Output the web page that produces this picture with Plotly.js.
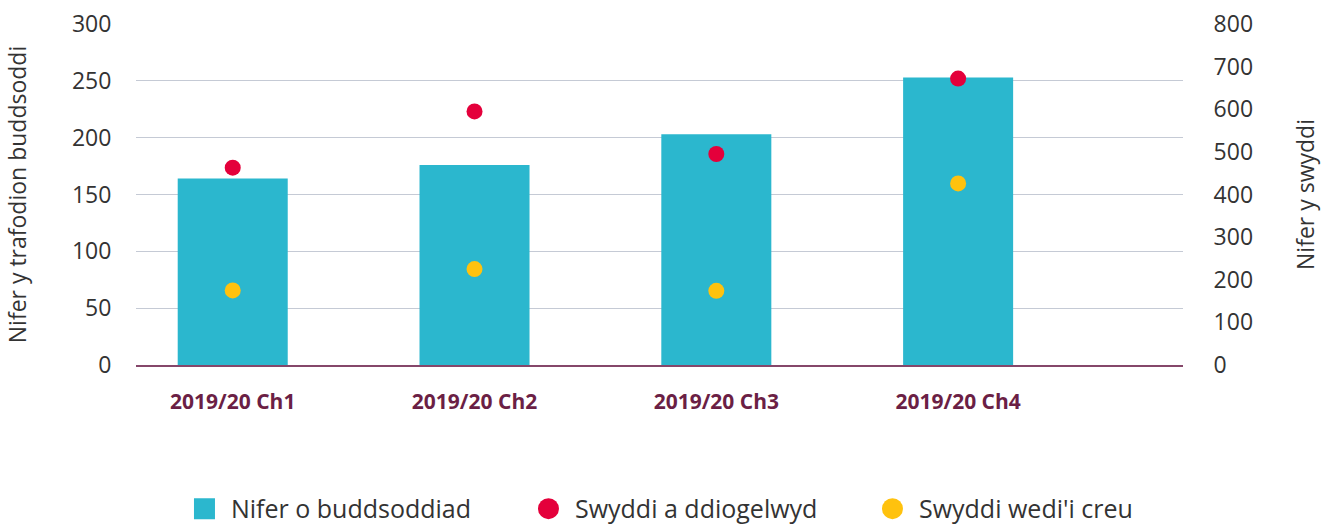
<!DOCTYPE html>
<html>
<head>
<meta charset="utf-8">
<script src="https://cdn.plot.ly/plotly-3.0.1.min.js"></script>
<style>html,body{margin:0;padding:0;background:#fff;}#chart{width:1328px;height:528px;}</style>
</head>
<body>
<div id="chart"></div>
<script>
const categories = ["2019/20 Ch1", "2019/20 Ch2", "2019/20 Ch3", "2019/20 Ch4"];
const investments = [164, 176, 203, 253];
const jobsSafeguarded = [463, 595, 495, 672];
const jobsCreated = [175, 225, 174, 426];

const seriesNames = ["Nifer o buddsoddiad", "Swyddi a ddiogelwyd", "Swyddi wedi'i creu"];
const leftTitle = "Nifer y trafodion buddsoddi";
const rightTitle = "Nifer y swyddi";

const FONT = "'Open Sans', sans-serif";
const PAD = "\u00a0";

const traces = [
  {
    type: 'bar', x: categories, y: investments, name: PAD + seriesNames[0],
    marker: {color: '#2BB7CE'}, width: 0.455, yaxis: 'y'
  },
  {
    type: 'scatter', mode: 'markers', x: categories, y: jobsSafeguarded, name: PAD + seriesNames[1],
    marker: {color: '#E4003B', size: 16}, yaxis: 'y2'
  },
  {
    type: 'scatter', mode: 'markers', x: categories, y: jobsCreated, name: PAD + seriesNames[2],
    marker: {color: '#FFC20E', size: 16}, yaxis: 'y2'
  }
];

const layout = {
  width: 1328, height: 528,
  margin: {l: 136, r: 145, t: 24, b: 163, autoexpand: false},
  paper_bgcolor: '#fff', plot_bgcolor: '#fff',
  font: {family: FONT, color: '#333', size: 20},
  showlegend: true,
  legend: {
    orientation: 'h', x: 0.0463, xanchor: 'left', y: -0.422, yanchor: 'middle',
    font: {size: 25, color: '#333', family: FONT}, itemsizing: 'constant',
    traceorder: 'normal', entrywidth: 299, entrywidthmode: 'pixels'
  },
  xaxis: {
    type: 'category', range: [-0.4, 3.93],
    showgrid: false, zeroline: false,
    showline: true, linecolor: '#85476A', linewidth: 1.5,
    ticks: 'outside', ticklen: 17, tickcolor: 'rgba(0,0,0,0)',
    tickfont: {family: FONT, size: 21, color: '#6B1F45', weight: 'bold'}
  },
  yaxis: {
    range: [0, 300], dtick: 50, tick0: 0,
    showgrid: true, gridcolor: '#C5CAD5', gridwidth: 1.2,
    zeroline: false, showline: false,
    ticks: 'outside', ticklen: 19, tickcolor: 'rgba(0,0,0,0)',
    tickfont: {family: FONT, size: 23, color: '#333'},
    title: {text: leftTitle, font: {family: FONT, size: 23, color: '#333'}, standoff: 38}
  },
  yaxis2: {
    overlaying: 'y', side: 'right', range: [0, 800], dtick: 100, tick0: 0,
    showgrid: false, zeroline: false, showline: false,
    ticks: 'outside', ticklen: 25, tickcolor: 'rgba(0,0,0,0)',
    tickfont: {family: FONT, size: 23, color: '#333'},
    title: {text: rightTitle, font: {family: FONT, size: 23, color: '#333'}, standoff: 45}
  }
};

function enlargeLegendSymbols() {
  document.querySelectorAll('#chart .legend .legendpoints path').forEach(function (p) {
    const bb = p.getBBox();
    const w = Math.max(bb.width, bb.height) || 1;
    const s = 21 / w;
    const base = p.getAttribute('data-base-transform');
    const t = base !== null ? base : (p.getAttribute('transform') || '');
    if (base === null) p.setAttribute('data-base-transform', t);
    p.setAttribute('transform', t + ' scale(' + s + ')');
  });
}

Plotly.newPlot('chart', traces, layout, {displayModeBar: false, staticPlot: true}).then(enlargeLegendSymbols);
</script>
</body>
</html>
